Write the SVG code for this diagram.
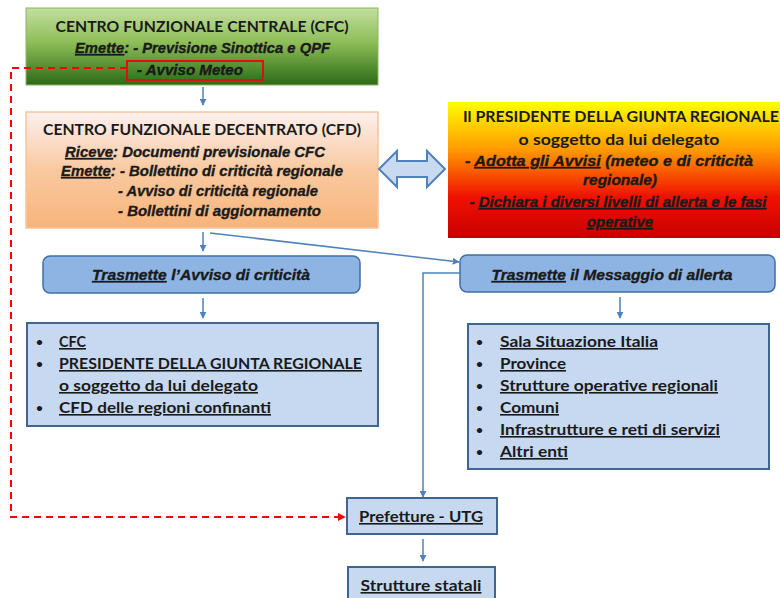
<svg xmlns="http://www.w3.org/2000/svg" width="780" height="598" viewBox="0 0 780 598">
<defs>
<linearGradient id="gGreen" x1="0" y1="0" x2="0" y2="1">
<stop offset="0" stop-color="#c4df9e"/>
<stop offset="0.45" stop-color="#8dbd58"/>
<stop offset="1" stop-color="#2c6a16"/>
</linearGradient>
<linearGradient id="gOrange" x1="0" y1="0" x2="0" y2="1">
<stop offset="0" stop-color="#fdf0ee"/>
<stop offset="0.5" stop-color="#f9c9a0"/>
<stop offset="1" stop-color="#f7b47a"/>
</linearGradient>
<linearGradient id="gRed" x1="0" y1="0" x2="0" y2="1">
<stop offset="0" stop-color="#ffff00"/>
<stop offset="0.35" stop-color="#ff9a00"/>
<stop offset="0.7" stop-color="#f01000"/>
<stop offset="1" stop-color="#c80000"/>
</linearGradient>
<marker id="aBlue" viewBox="0 0 10 10" refX="9" refY="5" markerWidth="7" markerHeight="7" orient="auto" markerUnits="userSpaceOnUse">
<path d="M0,0 L10,5 L0,10 Z" fill="#4f81bd"/>
</marker>
<marker id="aRed" viewBox="0 0 10 10" refX="9" refY="5" markerWidth="8" markerHeight="8" orient="auto" markerUnits="userSpaceOnUse">
<path d="M0,0 L10,5 L0,10 Z" fill="#ff0000"/>
</marker>
<style>
text{font-family:Lato,"Liberation Sans",sans-serif;font-weight:bold;fill:#1a1a1a}
.t{font-size:16px}
.s{font-family:"Liberation Sans",Arial,sans-serif;font-size:14.5px;font-style:italic;font-weight:bold;stroke:#1a1a1a;stroke-width:0.35}
.l{font-size:16px;text-decoration:underline}
.b{font-size:12px}
.c{text-anchor:middle}
.u{text-decoration:underline}
.box{stroke:#3f6590;stroke-width:2;fill:#c6d9f1}
.pill{stroke:#3f6fa8;stroke-width:1.5;fill:#8eb4e3}
.blue{stroke:#4f81bd;stroke-width:1.5;fill:none}
.red{stroke:#ff0000;stroke-width:2;fill:none;stroke-dasharray:7,5}
</style>
</defs>

<g id="cfc">
<rect x="26" y="8" width="352" height="77" fill="url(#gGreen)" stroke="#8cb562" stroke-width="1"/>
<text class="t c" x="202" y="32" textLength="293" lengthAdjust="spacingAndGlyphs">CENTRO FUNZIONALE CENTRALE (CFC)</text>
<text class="s" x="75" y="53" textLength="255" lengthAdjust="spacingAndGlyphs"><tspan class="u">Emette</tspan>:  - Previsione Sinottica e QPF</text>
<rect x="127" y="61" width="136" height="19" fill="none" stroke="#e01010" stroke-width="2"/>
<text class="s" x="137" y="75" textLength="106" lengthAdjust="spacingAndGlyphs">- Avviso Meteo</text>
</g>

<g id="cfd">
<rect x="26" y="112" width="352" height="116" fill="url(#gOrange)" stroke="#f8c59a" stroke-width="1.5"/>
<text class="t c" x="202" y="135" textLength="318" lengthAdjust="spacingAndGlyphs">CENTRO FUNZIONALE DECENTRATO (CFD)</text>
<text class="s" x="65" y="157" textLength="260" lengthAdjust="spacingAndGlyphs"><tspan class="u">Riceve</tspan>: Documenti previsionale CFC</text>
<text class="s" x="61" y="176" textLength="282" lengthAdjust="spacingAndGlyphs"><tspan class="u">Emette</tspan>: - Bollettino di criticità regionale</text>
<text class="s" x="118" y="196" textLength="200" lengthAdjust="spacingAndGlyphs">- Avviso di criticità regionale</text>
<text class="s" x="118" y="216" textLength="203" lengthAdjust="spacingAndGlyphs">- Bollettini di aggiornamento</text>
</g>

<g id="presidente">
<rect x="448" y="102" width="332" height="136" fill="url(#gRed)"/>
<text class="t c" x="621" y="122" textLength="316" lengthAdjust="spacingAndGlyphs">Il PRESIDENTE DELLA GIUNTA REGIONALE</text>
<text class="t c" x="619" y="145" textLength="201" lengthAdjust="spacingAndGlyphs">o soggetto da lui delegato</text>
<text class="s c" x="609" y="166" textLength="288" lengthAdjust="spacingAndGlyphs">- <tspan class="u">Adotta gli Avvisi</tspan> (meteo e di criticità</text>
<text class="s c" x="620" y="185" textLength="74" lengthAdjust="spacingAndGlyphs">regionale)</text>
<text class="s c" x="618" y="207" textLength="297" lengthAdjust="spacingAndGlyphs">- <tspan class="u">Dichiara i diversi livelli di allerta e le fasi</tspan></text>
<text class="s c u" x="620" y="227" textLength="66" lengthAdjust="spacingAndGlyphs">operative</text>
</g>

<g id="doppia-freccia">
<path d="M379,169 L397,151 L397,161 L427,161 L427,151 L445,169 L427,187 L427,177 L397,177 L397,187 Z" fill="#c9daf0" stroke="#4f81bd" stroke-width="2"/>
</g>

<g id="trasmette-avviso">
<rect x="43" y="256" width="317" height="37" rx="7" class="pill"/>
<text class="s c" x="201" y="280" textLength="218" lengthAdjust="spacingAndGlyphs"><tspan class="u">Trasmette</tspan> l’Avviso di criticità</text>
</g>

<g id="lista-avviso">
<rect x="27" y="323" width="351" height="103" class="box"/>
<text class="b" x="36" y="346">•</text>
<text class="l" x="59" y="347" textLength="27" lengthAdjust="spacingAndGlyphs">CFC</text>
<text class="b" x="36" y="368">•</text>
<text class="l" x="59" y="369" textLength="303" lengthAdjust="spacingAndGlyphs">PRESIDENTE DELLA GIUNTA REGIONALE</text>
<text class="l" x="59" y="391" textLength="199" lengthAdjust="spacingAndGlyphs">o soggetto da lui delegato</text>
<text class="b" x="36" y="412">•</text>
<text class="l" x="59" y="413" textLength="212" lengthAdjust="spacingAndGlyphs">CFD delle regioni confinanti</text>
</g>

<g id="trasmette-messaggio">
<rect x="460" y="255" width="315" height="37" rx="7" class="pill"/>
<text class="s c" x="612" y="280" textLength="241" lengthAdjust="spacingAndGlyphs"><tspan class="u">Trasmette</tspan> il Messaggio di allerta</text>
</g>

<g id="lista-messaggio">
<rect x="468" y="324" width="301" height="145" class="box"/>
<text class="b" x="476" y="346">•</text>
<text class="l" x="500" y="347" textLength="158" lengthAdjust="spacingAndGlyphs">Sala Situazione Italia</text>
<text class="b" x="476" y="368">•</text>
<text class="l" x="500" y="369" textLength="66" lengthAdjust="spacingAndGlyphs">Province</text>
<text class="b" x="476" y="390">•</text>
<text class="l" x="500" y="391" textLength="218" lengthAdjust="spacingAndGlyphs">Strutture operative regionali</text>
<text class="b" x="476" y="412">•</text>
<text class="l" x="500" y="413" textLength="59" lengthAdjust="spacingAndGlyphs">Comuni</text>
<text class="b" x="476" y="434">•</text>
<text class="l" x="500" y="435" textLength="220" lengthAdjust="spacingAndGlyphs">Infrastrutture e reti di servizi</text>
<text class="b" x="476" y="456">•</text>
<text class="l" x="500" y="457" textLength="68" lengthAdjust="spacingAndGlyphs">Altri enti</text>
</g>

<g id="prefetture">
<rect x="347" y="498" width="150" height="36" class="box"/>
<text class="l c" x="421" y="522" textLength="124" lengthAdjust="spacingAndGlyphs">Prefetture - UTG</text>
</g>

<g id="strutture-statali">
<rect x="348" y="567" width="147" height="36" class="box"/>
<text class="l c" x="421" y="591" textLength="121" lengthAdjust="spacingAndGlyphs">Strutture statali</text>
</g>

<g id="connettori">
<line x1="203" y1="87" x2="203" y2="105" class="blue" marker-end="url(#aBlue)"/>
<line x1="203" y1="232" x2="203" y2="251" class="blue" marker-end="url(#aBlue)"/>
<line x1="203" y1="298" x2="203" y2="318" class="blue" marker-end="url(#aBlue)"/>
<line x1="210" y1="233" x2="459" y2="262" class="blue" marker-end="url(#aBlue)"/>
<line x1="620" y1="297" x2="620" y2="318" class="blue" marker-end="url(#aBlue)"/>
<polyline points="460,273 423,273 423,497" class="blue" marker-end="url(#aBlue)"/>
<line x1="423" y1="539" x2="423" y2="561" class="blue" marker-end="url(#aBlue)"/>
<polyline points="127,68 11,68 11,517 345,517" class="red" marker-end="url(#aRed)"/>
</g>
</svg>
